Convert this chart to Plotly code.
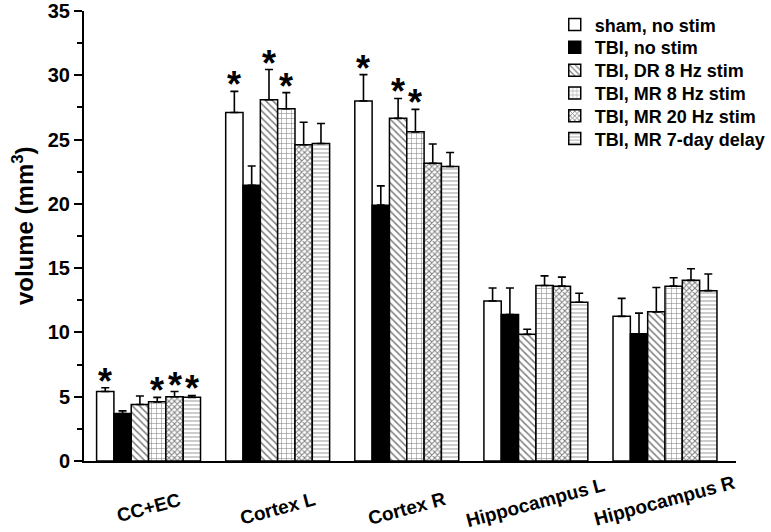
import plotly.graph_objects as go

groups = ["CC+EC", "Cortex L", "Cortex R", "Hippocampus L", "Hippocampus R"]
series_names = ["sham, no stim", "TBI, no stim", "TBI, DR 8 Hz stim",
                "TBI, MR 8 Hz stim", "TBI, MR 20 Hz stim", "TBI, MR 7-day delay"]

sham_mean = [5.4, 27.1, 28.0, 12.45, 11.25]
sham_top = [5.7, 28.75, 30.05, 13.45, 12.65]
tbi_mean = [3.7, 21.45, 19.9, 11.4, 9.9]
tbi_top = [3.9, 22.95, 21.4, 13.45, 11.5]
dr8_mean = [4.4, 28.1, 26.65, 9.85, 11.6]
dr8_top = [5.05, 30.45, 28.2, 10.25, 13.5]
mr8_mean = [4.6, 27.4, 25.6, 13.65, 13.6]
mr8_top = [4.95, 28.65, 27.35, 14.4, 14.25]
mr20_mean = [5.0, 24.6, 23.15, 13.6, 14.05]
mr20_top = [5.4, 26.35, 24.65, 14.3, 14.95]
delay_mean = [4.95, 24.7, 22.9, 12.35, 13.25]
delay_top = [5.1, 26.25, 24.0, 13.05, 14.55]

# significance stars: (series index, group index)
stars = [(0, 0), (3, 0), (4, 0), (5, 0),
         (0, 1), (2, 1), (3, 1),
         (0, 2), (2, 2), (3, 2)]

y_ticks = [0, 5, 10, 15, 20, 25, 30, 35]

means = [sham_mean, tbi_mean, dr8_mean, mr8_mean, mr20_mean, delay_mean]
tops = [sham_top, tbi_top, dr8_top, mr8_top, mr20_top, delay_top]

styles = [
    dict(color="white"),
    dict(color="black"),
    dict(color="white", pattern=dict(shape="\\", fgcolor="black", bgcolor="white", size=5, solidity=0.3)),
    dict(color="white", pattern=dict(shape="+", fgcolor="black", bgcolor="white", size=5, solidity=0.2)),
    dict(color="white", pattern=dict(shape="x", fgcolor="black", bgcolor="white", size=4, solidity=0.45)),
    dict(color="white", pattern=dict(shape="-", fgcolor="#555555", bgcolor="white", size=4, solidity=0.3)),
]

FONT = "Arial, Liberation Sans, Helvetica, sans-serif"
BARGAP = 0.195
n = len(series_names)
width = (1 - BARGAP) / n
xs = list(range(len(groups)))

# layout geometry (pixels) used for legend row and label placement
TOP, PLOT_H = 7, 454
legend_rows_px = [21, 44, 67, 90, 113, 136]
label_shift_px = [-46, -47, -47, -41, -39]

fig = go.Figure()
legend_layout = {}
for i, name in enumerate(series_names):
    m = means[i]
    up = [t - v for t, v in zip(tops[i], m)]
    marker = dict(line=dict(color="black", width=1.5), **styles[i])
    lg = "legend" if i == 0 else "legend%d" % (i + 1)
    fig.add_trace(go.Bar(
        x=xs, y=m, name=name, marker=marker, legend=lg,
        error_y=dict(type="data", array=up, arrayminus=[0] * len(m),
                     symmetric=False, color="black", thickness=1.6, width=4),
    ))
    legend_layout[lg] = dict(
        x=0.722, y=1 - (legend_rows_px[i] - TOP) / PLOT_H,
        xanchor="left", yanchor="middle",
        bgcolor="rgba(0,0,0,0)", itemwidth=30,
        font=dict(size=18, family=FONT, color="black", weight="bold"))

ann = []
for (si, gi) in stars:
    xpos = gi - (1 - BARGAP) / 2 + (si + 0.5) * width
    ann.append(dict(x=xpos, y=tops[si][gi], xref="x", yref="y", text="*",
                    showarrow=False, yanchor="bottom", yshift=-16,
                    font=dict(family=FONT, size=36, color="black", weight="bold")))
for gi, g in enumerate(groups):
    ann.append(dict(x=gi, y=0, xref="x", yref="y", text=g,
                    showarrow=False, yanchor="middle", yshift=label_shift_px[gi],
                    textangle=-15,
                    font=dict(family=FONT, size=19, color="black", weight="bold")))
ann.append(dict(x=0, y=0.522, xref="paper", yref="paper", text="volume (mm<sup>3</sup>)",
                showarrow=False, xanchor="center", yanchor="middle", xshift=-61,
                textangle=-90,
                font=dict(family=FONT, size=24, color="black", weight="bold")))

fig.update_layout(
    width=771, height=532,
    margin=dict(l=84, r=0, t=7, b=71),
    paper_bgcolor="white", plot_bgcolor="white",
    barmode="group", bargap=BARGAP, bargroupgap=0,
    font=dict(family=FONT, color="black"),
    showlegend=True,
    annotations=ann,
    xaxis=dict(range=[-0.5, 4.55], showticklabels=False, ticks="",
               showline=True, linecolor="black", linewidth=2, showgrid=False,
               zeroline=False, fixedrange=True),
    yaxis=dict(range=[0, 35], tickvals=y_ticks, ticktext=[str(v) for v in y_ticks],
               ticks="outside", ticklen=8, tickwidth=1.5, tickcolor="black",
               minor=dict(dtick=2.5, ticks="outside", ticklen=5, tickwidth=1.5, tickcolor="black"),
               showline=True, linecolor="black", linewidth=2, showgrid=False,
               zeroline=False, ticklabeloverflow="allow",
               tickfont=dict(size=20, family=FONT, weight="bold")),
    **legend_layout,
)

fig.write_html("out.html", config={"displayModeBar": False},
               post_script="document.body.style.margin='0px';")
